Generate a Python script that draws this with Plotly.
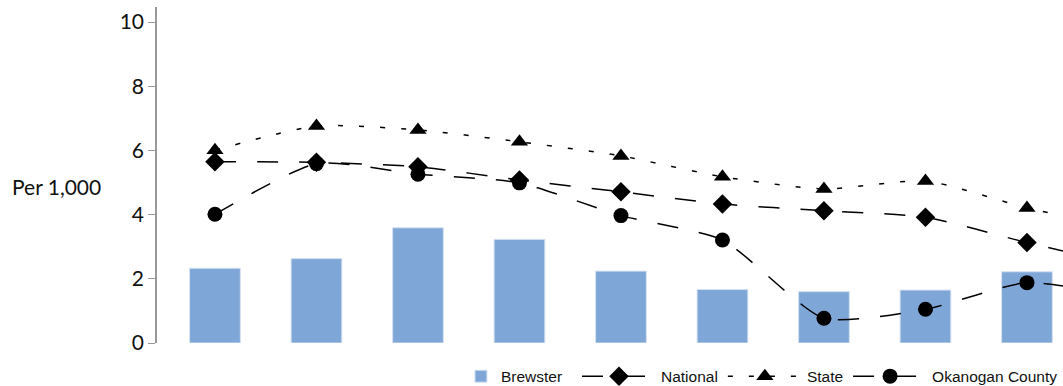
import plotly.graph_objects as go

categories = ["2004", "2005", "2006", "2007", "2008", "2009", "2010", "2011", "2012", "2013"]
brewster = [2.33, 2.63, 3.59, 3.23, 2.24, 1.67, 1.60, 1.65, 2.22, None]
national = [5.65, 5.63, 5.49, 5.08, 4.71, 4.33, 4.12, 3.92, 3.13, 2.40]
state = [6.01, 6.76, 6.64, 6.27, 5.83, 5.18, 4.80, 5.05, 4.21, 3.55]
okanogan = [4.01, 5.59, 5.26, 4.99, 3.97, 3.21, 0.77, 1.05, 1.88, 1.40]

y_ticks = [0, 2, 4, 6, 8, 10]

fig = go.Figure()
fig.add_trace(go.Bar(
    x=categories, y=brewster, name="Brewster", legend="legend",
    marker=dict(color="#7EA6D7", line=dict(color="#D6E2F2", width=1)),
    width=0.5,
))
fig.add_trace(go.Scatter(
    x=categories, y=national, name="National", mode="lines+markers", legend="legend2",
    line=dict(color="black", width=1.5, dash="21px,21px", shape="spline", smoothing=0.6),
    marker=dict(symbol="diamond", size=15, color="black"),
))
fig.add_trace(go.Scatter(
    x=categories, y=state, name="State", mode="lines+markers", legend="legend2",
    line=dict(color="black", width=1.5, dash="5px,16px", shape="spline", smoothing=0.6),
    marker=dict(symbol="triangle-up", size=15, color="black"),
))
fig.add_trace(go.Scatter(
    x=categories, y=okanogan, name="Okanogan County", mode="lines+markers", legend="legend2",
    line=dict(color="black", width=1.5, dash="21px,21px", shape="spline", smoothing=0.6),
    marker=dict(symbol="circle", size=15, color="black"),
))

legend_font = dict(family="Liberation Sans, Arial", size=15.5, color="#111")
fig.update_layout(
    width=1063, height=386,
    margin=dict(l=157, r=0, t=7, b=43, autoexpand=False),
    paper_bgcolor="white", plot_bgcolor="white",
    showlegend=True,
    legend=dict(orientation="h", x=0.3355, xanchor="left", y=-0.1, yanchor="middle",
                font=legend_font, itemwidth=30, bgcolor="rgba(0,0,0,0)"),
    legend2=dict(orientation="h", x=1, xanchor="right", y=-0.1, yanchor="middle",
                 font=legend_font, itemwidth=74, traceorder="normal",
                 bgcolor="rgba(0,0,0,0)"),
    xaxis=dict(type="category", range=[-0.571, 8.355], showticklabels=False,
               showgrid=False, zeroline=False, showline=False, ticks=""),
    yaxis=dict(range=[0, 10.47], tickvals=y_ticks, ticks="outside", ticklen=7,
               tickcolor="#999", showline=True, linecolor="#999", linewidth=1.5,
               showgrid=False, zeroline=False,
               tickfont=dict(family="Lato, Open Sans", size=21, color="#111")),
    annotations=[dict(text="Per 1,000", xref="paper", yref="paper",
                      x=-0.1623, y=0.467, xanchor="left", yanchor="middle",
                      showarrow=False,
                      font=dict(family="Lato, Open Sans", size=21, color="#111"))],
    bargap=0.5,
)

fig.write_html("out.html", config={"displayModeBar": False},
               post_script="document.body.style.margin='0px';")
